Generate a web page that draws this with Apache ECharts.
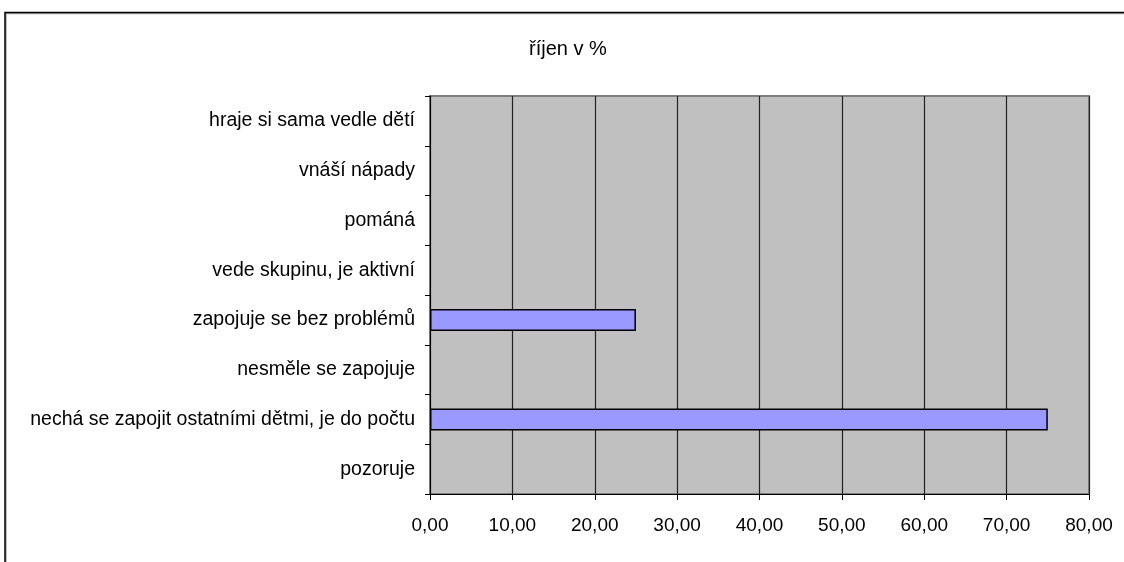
<!DOCTYPE html>
<html>
<head>
<meta charset="utf-8">
<script src="https://cdn.jsdelivr.net/npm/echarts@6/dist/echarts.min.js"></script>
<style>
html,body{margin:0;padding:0;background:#fff;}
#chart{width:1124px;height:562px;}
</style>
</head>
<body>
<div id="chart"></div>
<script>
var titleText = 'říjen v %';
var categories = [
  'pozoruje',
  'nechá se zapojit ostatními dětmi, je do počtu',
  'nesměle se zapojuje',
  'zapojuje se bez problémů',
  'vede skupinu, je aktivní',
  'pománá',
  'vnáší nápady',
  'hraje si sama vedle dětí'
];
var values = [0, 75, 0, 25, 0, 0, 0, 0];
var xTicks = [0, 10, 20, 30, 40, 50, 60, 70, 80];

var chart = echarts.init(document.getElementById('chart'));
var font = '"Liberation Sans", Arial, sans-serif';
chart.setOption({
  animation: false,
  backgroundColor: '#fff',
  textStyle: { fontFamily: font },
  title: {
    text: titleText,
    left: 524,
    top: 34,
    textStyle: { fontFamily: font, fontSize: 20, fontWeight: 'normal', color: '#000' }
  },
  graphic: [{
    type: 'rect',
    shape: { x: 5, y: 12.5, width: 1200, height: 600 },
    style: { fill: 'none', stroke: '#000', lineWidth: 1.5, shadowColor: 'rgba(0,0,0,0.35)', shadowOffsetX: 1, shadowOffsetY: 1 },
    silent: true
  }],
  grid: {
    left: 430, right: 35, top: 96, bottom: 68,
    show: true,
    backgroundColor: '#C0C0C0',
    borderColor: '#808080',
    borderWidth: 2
  },
  xAxis: {
    type: 'value',
    min: xTicks[0],
    max: xTicks[xTicks.length - 1],
    interval: 10,
    axisLine: { show: true, lineStyle: { color: '#000', width: 1 } },
    axisTick: { show: true, length: 6, lineStyle: { color: '#000' } },
    axisLabel: {
      margin: 22, fontSize: 19, color: '#000', fontFamily: font,
      formatter: function (v) { return v.toFixed(2).replace('.', ','); }
    },
    splitLine: { show: true, lineStyle: { color: '#222', width: 1.2 } }
  },
  yAxis: {
    type: 'category',
    data: categories,
    axisLine: { show: true, lineStyle: { color: '#000', width: 1 } },
    axisTick: { show: true, length: 5, lineStyle: { color: '#000' } },
    axisLabel: { margin: 15, fontSize: 19.5, color: '#000', fontFamily: font },
    splitLine: { show: false }
  },
  series: [{
    type: 'bar',
    data: values.map(function (v) { return v === 0 ? '-' : v; }),
    barWidth: 22,
    itemStyle: { color: '#9999FF', borderColor: '#000', borderWidth: 1.5 }
  }]
});
</script>
</body>
</html>
